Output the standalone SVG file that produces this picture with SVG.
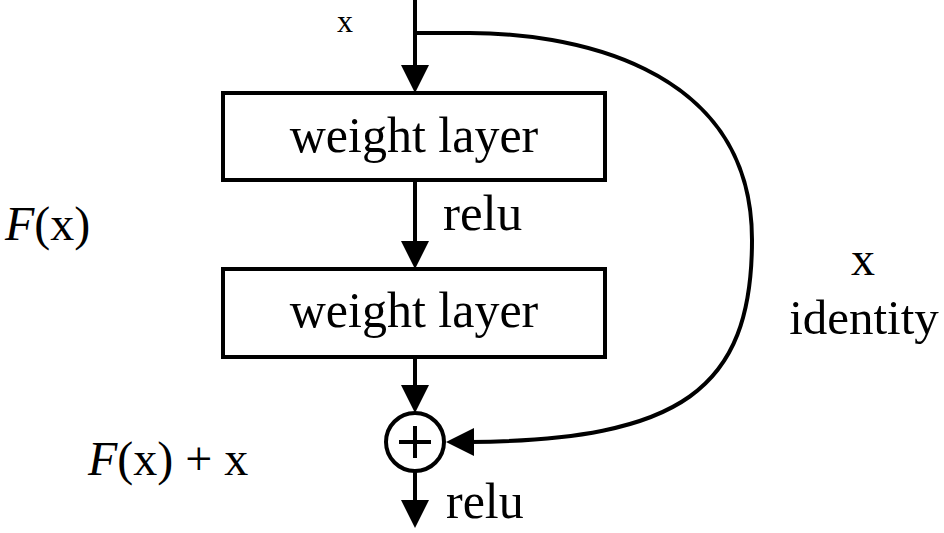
<svg xmlns="http://www.w3.org/2000/svg" width="944" height="533" viewBox="0 0 944 533">
<style>
.t{font-family:"Liberation Serif","Times New Roman",serif;fill:#000;}
.box{fill:#fff;stroke:#000;stroke-width:4;}
.ln{fill:none;stroke:#000;stroke-width:4;}
.ah{fill:#000;stroke:none;}
</style>
<rect width="944" height="533" fill="#fff"/>
<g id="connectors">
<line class="ln" x1="415" y1="0" x2="415" y2="68"/>
<polygon class="ah" points="401,65 429,65 415,93"/>
<line class="ln" x1="415" y1="180" x2="415" y2="244"/>
<polygon class="ah" points="401,241 429,241 415,269"/>
<line class="ln" x1="415" y1="357" x2="415" y2="388"/>
<polygon class="ah" points="401,385 429,385 415,413"/>
<line class="ln" x1="415" y1="472" x2="415" y2="503"/>
<polygon class="ah" points="401,500 429,500 415,528"/>
<path class="ln" d="M415,33 L470,33 C560,33 752,60 752,240 C752,390 680,440 470,442"/>
<polygon class="ah" points="474,428 474,456 446,442"/>
</g>
<g id="box1">
<rect class="box" x="223" y="93" width="382" height="87"/>
<text class="t" x="414" y="152" font-size="50" text-anchor="middle">weight layer</text>
</g>
<g id="box2">
<rect class="box" x="223" y="269" width="382" height="88"/>
<text class="t" x="414" y="327" font-size="50" text-anchor="middle">weight layer</text>
</g>
<g id="add">
<circle cx="415" cy="442" r="29" fill="#fff" stroke="#000" stroke-width="4"/>
<line class="ln" x1="399" y1="442" x2="431" y2="442"/>
<line class="ln" x1="415" y1="426" x2="415" y2="458"/>
</g>
<g id="labels">
<text class="t" x="345" y="32" font-size="32" text-anchor="middle">x</text>
<text class="t" x="443" y="230" font-size="51">relu</text>
<text class="t" x="446" y="518" font-size="50">relu</text>
<text class="t" x="5" y="240" font-size="48"><tspan font-style="italic">F</tspan>(x)</text>
<text class="t" x="88" y="475" font-size="48"><tspan font-style="italic">F</tspan>(x) + x</text>
<text class="t" x="863" y="275" font-size="48" text-anchor="middle">x</text>
<text class="t" x="864" y="334" font-size="49" text-anchor="middle">identity</text>
</g>
</svg>
